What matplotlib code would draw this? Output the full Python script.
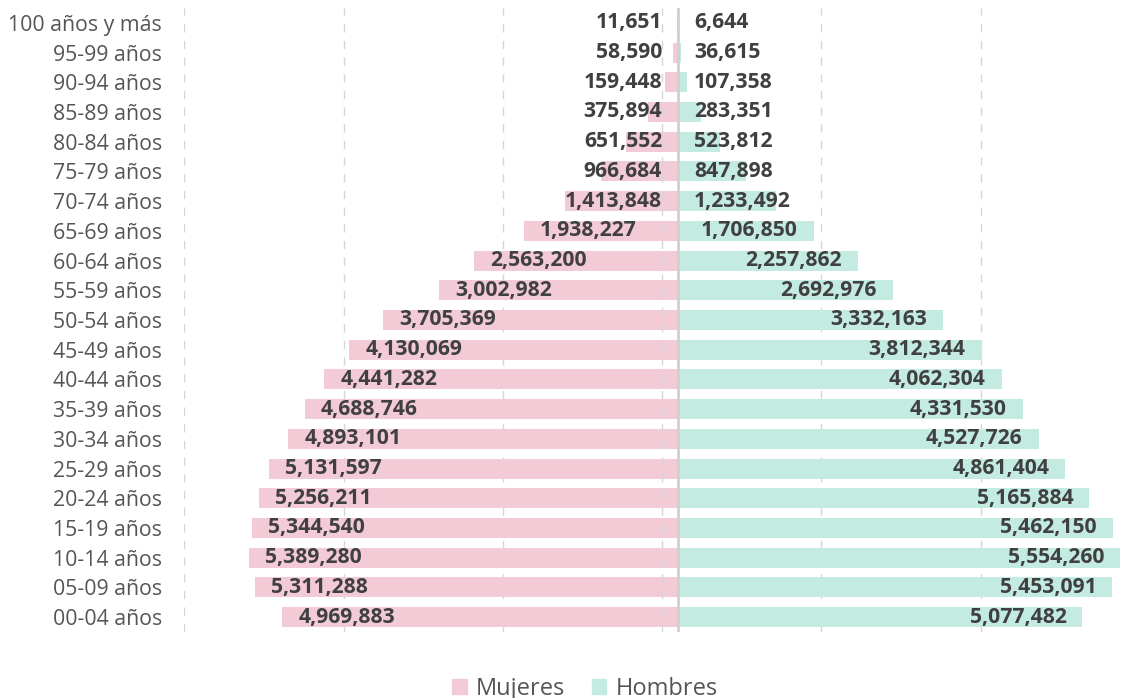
import matplotlib.pyplot as plt
import numpy as np

plt.rcParams['font.family'] = ['Open Sans', 'DejaVu Sans']

# age groups, top to bottom
grupos = ['100 años y más', '95-99 años', '90-94 años', '85-89 años', '80-84 años',
          '75-79 años', '70-74 años', '65-69 años', '60-64 años', '55-59 años',
          '50-54 años', '45-49 años', '40-44 años', '35-39 años', '30-34 años',
          '25-29 años', '20-24 años', '15-19 años', '10-14 años', '05-09 años',
          '00-04 años']
mujeres = [11651, 58590, 159448, 375894, 651552, 966684, 1413848, 1938227,
           2563200, 3002982, 3705369, 4130069, 4441282, 4688746, 4893101,
           5131597, 5256211, 5344540, 5389280, 5311288, 4969883]
hombres = [6644, 36615, 107358, 283351, 523812, 847898, 1233492, 1706850,
           2257862, 2692976, 3332163, 3812344, 4062304, 4331530, 4527726,
           4861404, 5165884, 5462150, 5554260, 5453091, 5077482]

c_muj = '#f2cbd7'
c_hom = '#c4ebe2'

W, H = 1131, 698
fig = plt.figure(figsize=(W / 100, H / 100), dpi=100)
ax = fig.add_axes([184.3 / W, 1 - 632 / H, (W - 184.3) / W, 624 / H])

y = np.arange(len(grupos))
m = np.array(mujeres) / 1e6
h = np.array(hombres) / 1e6

ax.barh(y, -m, height=0.67, color=c_muj, zorder=2)
ax.barh(y, h, height=0.67, color=c_hom, zorder=2)

ax.set_xlim(-6.2, (W - 678.3) / 79.6)
ax.set_ylim(len(grupos) - 0.5, -0.5)

# dashed grid
for gx in [-6.2, -4.2, -2.2, 1.8, 3.8]:
    ax.axvline(gx, color='#d6d6d6', lw=1, ls=(0, (6, 6)), zorder=1)
ax.axvline(-0.2, color='#d6d6d6', lw=1, ls=(0, (6, 6)), zorder=3)
ax.axvline(0, color='#d0d0d0', lw=2, zorder=3)

ax.set_yticks(y)
ax.set_yticklabels(grupos, fontsize=15.3, color='#555555')
ax.tick_params(axis='y', length=0, pad=16)
ax.set_xticks([])
for s in ax.spines.values():
    s.set_visible(False)

# value labels
tm = [ax.text(-v, i, f'{int(v * 1e6 + 0.5):,}', ha='left', va='center',
              fontsize=15.2, fontweight='bold', color='#404040', zorder=4)
      for i, v in enumerate(m)]
th = [ax.text(v, i, f'{int(v * 1e6 + 0.5):,}', ha='left', va='center',
              fontsize=15.2, fontweight='bold', color='#404040', zorder=4)
      for i, v in enumerate(h)]

fig.canvas.draw()
r = fig.canvas.get_renderer()
cx = ax.transData.transform((0, 0))[0]
pad = 16
inv = ax.transData.inverted()
for i, t in enumerate(tm):
    w = t.get_window_extent(r).width
    x0 = ax.transData.transform((-m[i], 0))[0] + pad
    x0 = min(x0, cx - pad - w)
    t.set_x(inv.transform((x0, 0))[0])
for i, t in enumerate(th):
    w = t.get_window_extent(r).width
    x1 = ax.transData.transform((h[i], 0))[0] - pad
    x0 = max(x1 - w, cx + pad)
    t.set_x(inv.transform((x0, 0))[0])

# legend
from matplotlib.patches import Patch
fig.legend(handles=[Patch(color=c_muj, label='Mujeres'), Patch(color=c_hom, label='Hombres')],
           loc='center', bbox_to_anchor=(585 / W, 1 - 689 / H), ncol=2, frameon=False,
           fontsize=17, labelcolor='#555555', handlelength=0.62, handleheight=0.62,
           handletextpad=0.4, columnspacing=1.1)

fig.savefig('out.png', dpi=100)
